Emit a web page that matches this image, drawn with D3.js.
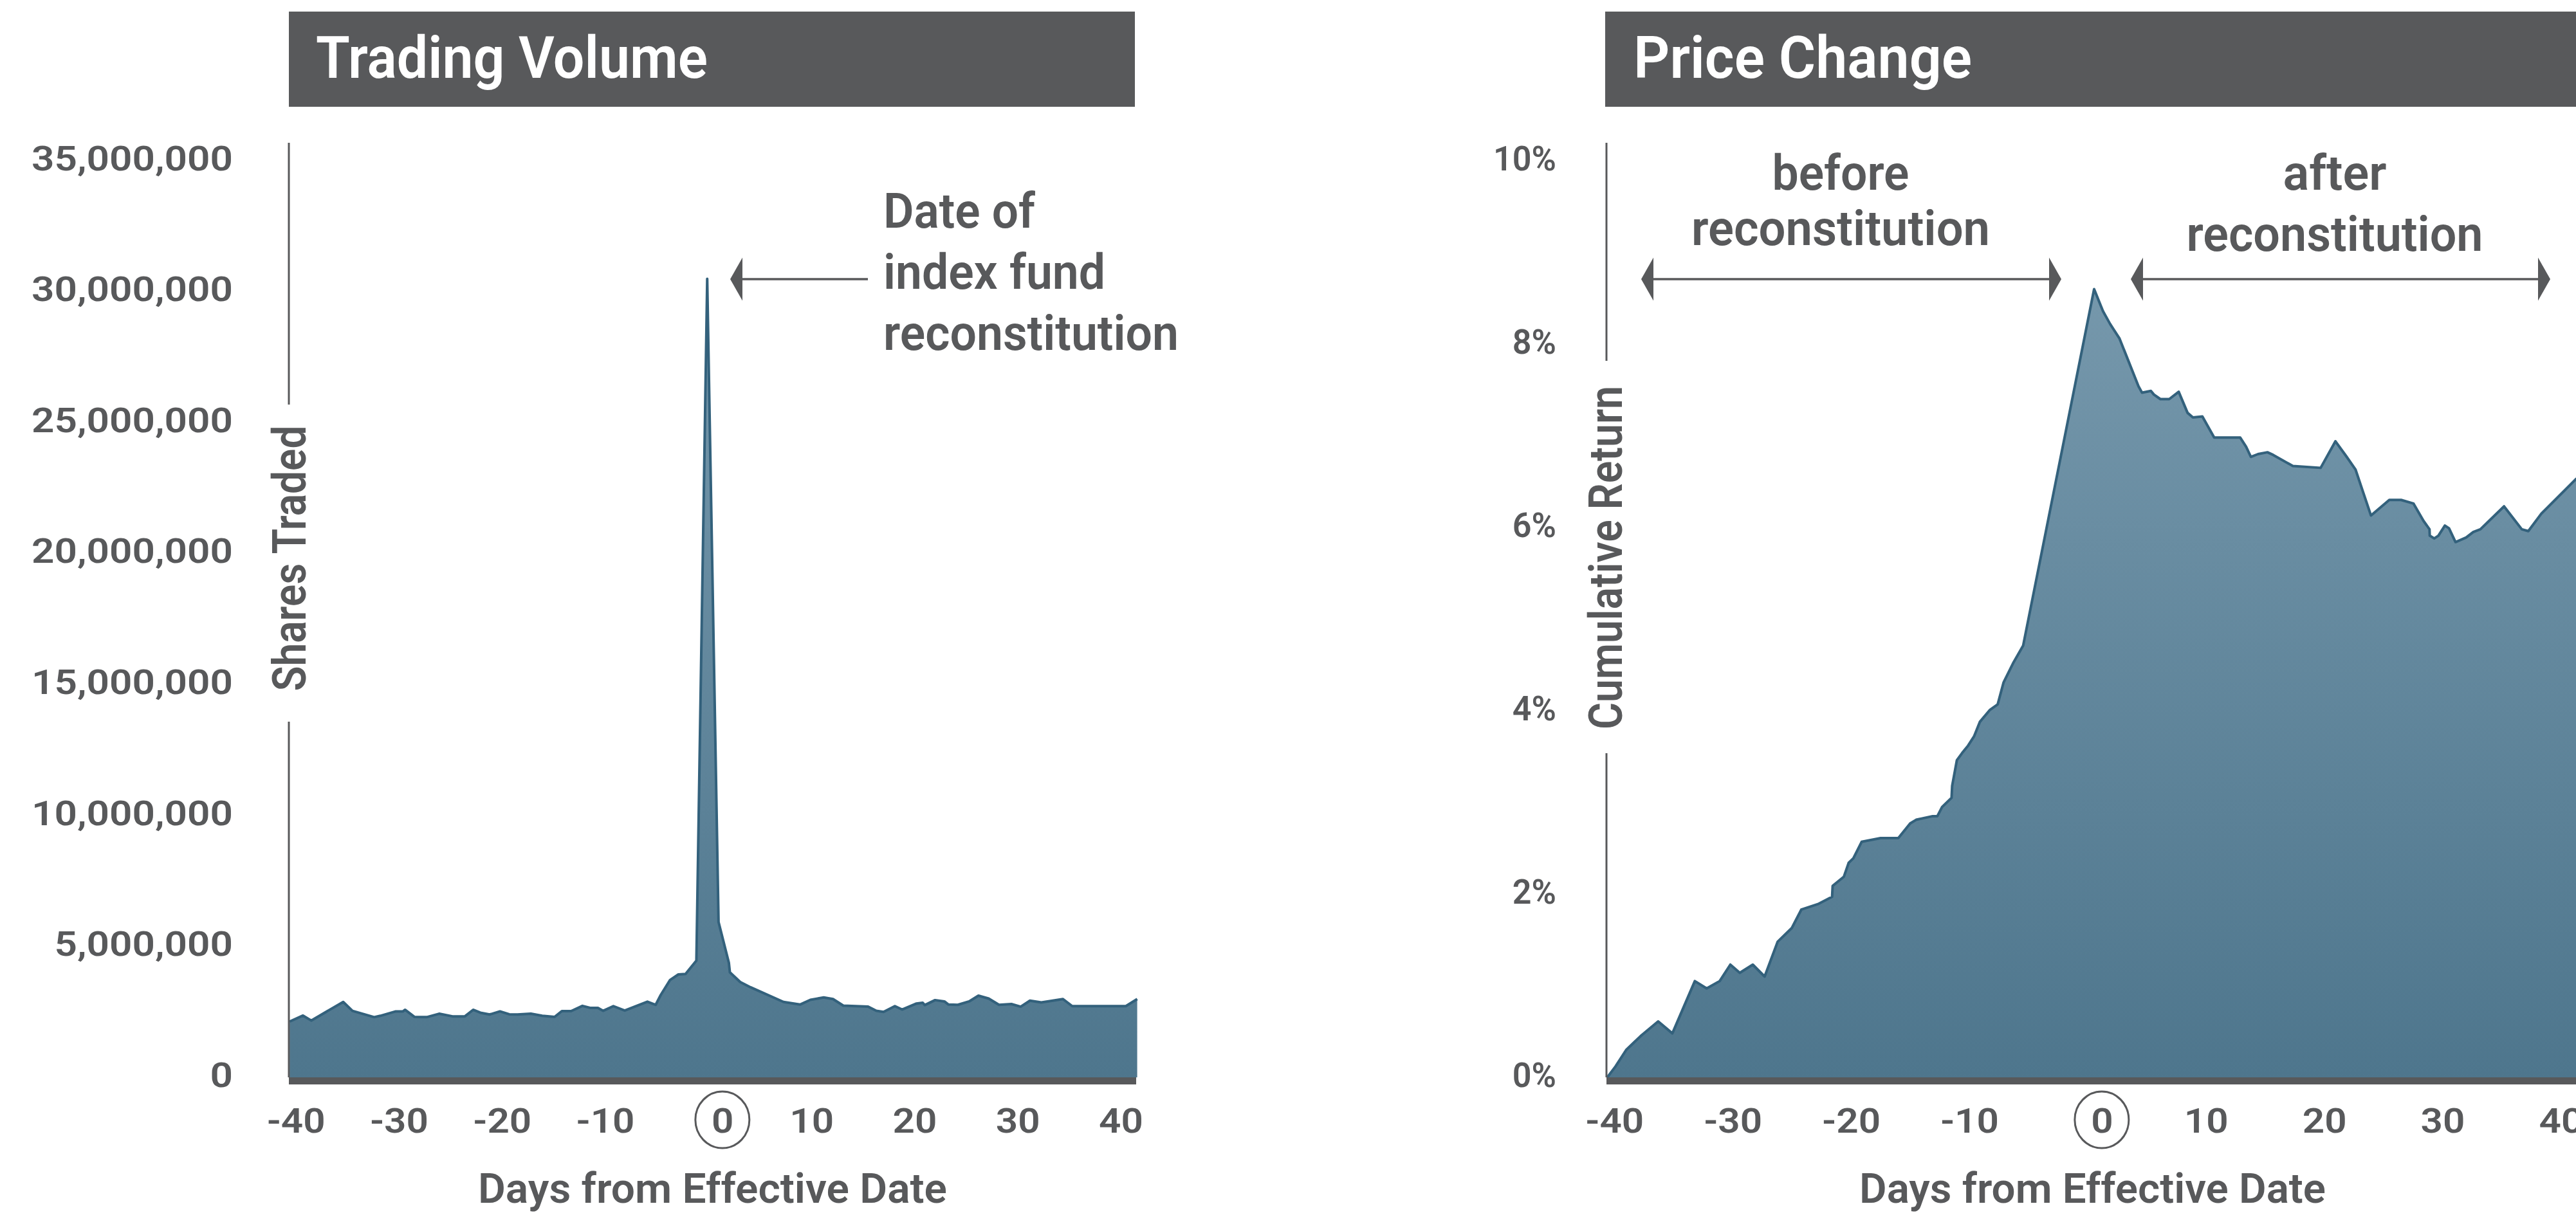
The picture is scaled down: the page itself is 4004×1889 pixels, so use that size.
<!DOCTYPE html>
<html>
<head>
<meta charset="utf-8">
<script src="https://cdn.jsdelivr.net/npm/d3@7"></script>
<style>
  html, body { margin: 0; padding: 0; background: #ffffff; }
  svg { display: block; }
  text { font-family: Roboto, "Noto Sans", "DejaVu Sans", sans-serif; font-weight: 600; fill: #58595b; }
</style>
</head>
<body>
<svg id="chart" width="4004" height="1889"></svg>
<script>
// ---- data -------------------------------------------------------------
// Trading volume: shares traded, by day relative to the effective date
const volumeDays = [
  -40.6, -39.3, -38.5, -35.4, -34.5, -32.4, -31.8, -30.3, -29.6, -29.4,
  -28.5, -27.3, -26.1, -24.8, -23.6, -22.8, -22.1, -21.2, -20.2, -19.3,
  -18.5, -17.2, -16.1, -14.9, -14.2, -13.3, -12.2, -11.4, -10.7, -10.2,
  -9.2, -8.1, -5.9, -5.1, -4.6, -3.7, -2.9, -2.2, -1.15, -0.1,
  1.0, 2.0, 2.1, 3.1, 4.1, 7.3, 8.9, 9.9, 11.2, 12.1,
  13.1, 15.5, 16.3, 17.0, 18.1, 18.8, 20.2, 20.8, 21.0, 22.0,
  22.9, 23.3, 24.2, 25.3, 26.2, 27.2, 28.2, 29.4, 30.3, 31.2,
  32.3, 34.4, 35.3, 40.5, 41.6
];
const volumeShares = [
  2130000, 2360000, 2170000, 2880000, 2540000, 2300000, 2350000, 2520000, 2520000, 2580000,
  2310000, 2300000, 2430000, 2330000, 2330000, 2580000, 2470000, 2400000, 2520000, 2410000,
  2400000, 2430000, 2350000, 2310000, 2530000, 2530000, 2730000, 2650000, 2650000, 2540000,
  2720000, 2550000, 2890000, 2770000, 3150000, 3720000, 3930000, 3950000, 4460000, 30490000,
  5930000, 4380000, 4010000, 3640000, 3440000, 2880000, 2780000, 2960000, 3050000, 2990000,
  2740000, 2700000, 2540000, 2500000, 2720000, 2590000, 2820000, 2850000, 2760000, 2950000,
  2900000, 2780000, 2770000, 2900000, 3120000, 3010000, 2770000, 2800000, 2700000, 2930000,
  2860000, 2990000, 2720000, 2720000, 2990000
];

// Price change: cumulative return (%), by day relative to the effective date
const returnDays = [
  -40.6, -39.9, -39.0, -37.7, -36.3, -35.1, -33.2, -32.2, -31.1, -30.2,
  -29.4, -28.3, -27.3, -26.2, -25.0, -24.2, -22.8, -21.6, -21.55, -20.6,
  -20.2, -19.8, -19.1, -17.5, -16.0, -15.0, -14.5, -13.1, -12.7, -12.3,
  -11.5, -11.45, -11.05, -10.6, -10.1, -9.6, -9.1, -8.25, -7.6, -7.1,
  -6.25, -5.45, 0.55, 1.3, 1.9, 2.7, 4.3, 4.6, 5.35, 5.6,
  6.15, 6.9, 7.7, 8.45, 8.9, 9.7, 10.7, 12.9, 13.4, 13.8,
  14.4, 15.2, 15.7, 17.35, 19.7, 20.95, 21.9, 22.65, 23.95, 25.5,
  26.5, 27.55, 28.4, 28.9, 28.92, 29.3, 29.65, 30.2, 30.55, 31.1,
  32.0, 32.6, 33.2, 35.2, 36.7, 37.25, 38.35, 41.3, 41.5
];
const returnPct = [
  0.00, 0.12, 0.30, 0.46, 0.61, 0.48, 1.05, 0.97, 1.05, 1.23,
  1.14, 1.23, 1.10, 1.48, 1.63, 1.83, 1.89, 1.97, 2.09, 2.19,
  2.34, 2.39, 2.57, 2.61, 2.61, 2.77, 2.81, 2.85, 2.85, 2.95,
  3.05, 3.18, 3.46, 3.54, 3.62, 3.72, 3.88, 4.01, 4.07, 4.31,
  4.53, 4.71, 8.60, 8.36, 8.22, 8.06, 7.54, 7.47, 7.49, 7.45,
  7.40, 7.40, 7.48, 7.25, 7.20, 7.21, 6.98, 6.98, 6.88, 6.77,
  6.80, 6.82, 6.79, 6.67, 6.65, 6.94, 6.77, 6.63, 6.13, 6.30,
  6.30, 6.26, 6.07, 5.98, 5.91, 5.88, 5.91, 6.02, 5.99, 5.84,
  5.89, 5.95, 5.98, 6.23, 5.98, 5.96, 6.15, 6.53, 6.55
];

// Axis ticks and labels
const dayTicks = [-40, -30, -20, -10, 0, 10, 20, 30, 40];
const volumeTicks = [0, 5000000, 10000000, 15000000, 20000000, 25000000, 30000000, 35000000];
const returnTicks = [0, 2, 4, 6, 8, 10];
const panelTitles = ["Trading Volume", "Price Change"];
const yAxisTitles = ["Shares Traded", "Cumulative Return"];
const xAxisTitle = "Days from Effective Date";
const spikeNote = ["Date of", "index fund", "reconstitution"];
const beforeNote = ["before", "reconstitution"];
const afterNote = ["after", "reconstitution"];

// ---- drawing ----------------------------------------------------------
const GREY = "#58595b";
const svg = d3.select("#chart");

const defs = svg.append("defs");
const grad = defs.append("linearGradient")
  .attr("id", "areaFill")
  .attr("gradientUnits", "userSpaceOnUse")
  .attr("x1", 0).attr("y1", 430).attr("x2", 0).attr("y2", 1675);
grad.append("stop").attr("offset", 0).attr("stop-color", "#7698ac");
grad.append("stop").attr("offset", 1).attr("stop-color", "#4e768d");

function naturalWidth(str, size) {
  const t = svg.append("text").attr("font-size", size).text(str);
  const w = t.node().getComputedTextLength();
  t.remove();
  return w;
}
function fit(sel, w) {
  sel.attr("textLength", w).attr("lengthAdjust", "spacingAndGlyphs");
}
function squeeze(sel, k) {
  sel.each(function () {
    const n = this.getComputedTextLength();
    d3.select(this).attr("textLength", n * k).attr("lengthAdjust", "spacingAndGlyphs");
  });
}

const xDomain = [-40.67, 41.5];
const yRange = [1675, 250];
const TICK_SIZE = 54;

function drawPanel(cfg) {
  const g = svg.append("g");
  const x = d3.scaleLinear().domain(xDomain).range(cfg.xRange);
  const y = d3.scaleLinear().domain(cfg.yDomain).range(yRange);
  const pts = cfg.days.map((d, i) => ({ day: d, v: cfg.values[i] }));

  // header band
  g.append("rect")
    .attr("x", cfg.band[0]).attr("y", 18)
    .attr("width", cfg.band[1] - cfg.band[0]).attr("height", 148)
    .attr("fill", GREY);
  g.append("text")
    .attr("x", cfg.titleX).attr("y", 121)
    .attr("font-size", 91).attr("font-weight", 700)
    .style("fill", "#ffffff")
    .text(cfg.title)
    .call(fit, cfg.titleWidth);

  // filled area with its outline
  const area = d3.area().x(d => x(d.day)).y0(y(0)).y1(d => y(d.v));
  const line = d3.line().x(d => x(d.day)).y(d => y(d.v));
  g.append("path").datum(pts).attr("d", area).attr("fill", "url(#areaFill)");
  g.append("path").datum(pts).attr("d", line)
    .attr("fill", "none").attr("stroke", "#33617c")
    .attr("stroke-width", 4).attr("stroke-linejoin", "round");

  // baseline bar
  const xEnd = Math.min(cfg.xRange[1], 4004);
  g.append("rect")
    .attr("x", cfg.xRange[0]).attr("y", y(0))
    .attr("width", xEnd - cfg.xRange[0]).attr("height", 11)
    .attr("fill", GREY);

  // vertical axis rule, broken around its title
  const ax = cfg.xRange[0];
  g.append("line").attr("x1", ax).attr("x2", ax).attr("y1", 222).attr("y2", cfg.gap[0])
    .attr("stroke", GREY).attr("stroke-width", 3);
  g.append("line").attr("x1", ax).attr("x2", ax).attr("y1", cfg.gap[1]).attr("y2", y(0))
    .attr("stroke", GREY).attr("stroke-width", 3);
  g.append("text")
    .attr("transform", `translate(${cfg.yTitleX},${cfg.yTitleY}) rotate(-90)`)
    .attr("text-anchor", "middle")
    .attr("font-size", 73)
    .text(cfg.yTitle)
    .call(fit, cfg.yTitleWidth);

  // y tick labels
  const yAxis = d3.axisLeft(y).tickValues(cfg.yTicks).tickFormat(cfg.yFormat)
    .tickSize(0).tickPadding(0);
  const yg = g.append("g")
    .attr("transform", `translate(${cfg.yLabelRight},-5)`)
    .call(yAxis);
  yg.select(".domain").remove();
  yg.attr("font-family", null).attr("font-size", TICK_SIZE);
  const ky = cfg.yLabelSampleWidth / naturalWidth(cfg.yLabelSample, TICK_SIZE);
  yg.selectAll(".tick text").attr("dy", "0.3555em").style("fill", GREY).call(squeeze, ky);

  // x tick labels; the zero label sits inside a ring, nudged right
  const zeroShift = 22;
  const xAxis = d3.axisBottom(x).tickValues(dayTicks).tickFormat(d => String(d))
    .tickSize(0).tickPadding(0);
  const xg = g.append("g").attr("transform", "translate(0,1761)").call(xAxis);
  xg.select(".domain").remove();
  xg.attr("font-family", null).attr("font-size", TICK_SIZE);
  const kx = cfg.xLabelSampleWidth / naturalWidth("-40", TICK_SIZE);
  xg.selectAll(".tick text")
    .attr("y", 0).attr("dy", 0)
    .attr("dx", d => (d === 0 ? zeroShift : 0))
    .style("fill", GREY)
    .call(squeeze, kx);
  g.append("ellipse")
    .attr("cx", x(0) + zeroShift).attr("cy", 1741)
    .attr("rx", 42).attr("ry", 44)
    .attr("fill", "none").attr("stroke", GREY).attr("stroke-width", 3);

  // x axis title
  g.append("text")
    .attr("x", (cfg.xRange[0] + cfg.xRange[1]) / 2).attr("y", 1870)
    .attr("text-anchor", "middle")
    .attr("font-size", 64)
    .text(xAxisTitle)
    .call(fit, cfg.xTitleWidth);

  return { g, x, y };
}

function arrowHead(g, tipX, dir, yMid) {
  // dir = -1 points left, +1 points right
  const back = tipX - dir * 19;
  g.append("path")
    .attr("d", `M${tipX},${yMid} L${back},${yMid - 33.5} L${back},${yMid + 33.5} Z`)
    .attr("fill", GREY);
}

// ---- Trading Volume panel ----
const left = drawPanel({
  xRange: [449, 1766],
  yDomain: [0, 35000000],
  days: volumeDays, values: volumeShares,
  band: [449, 1764], title: panelTitles[0], titleX: 491, titleWidth: 609,
  gap: [629, 1122], yTitle: yAxisTitles[0], yTitleX: 475, yTitleY: 868, yTitleWidth: 413,
  yTicks: volumeTicks, yFormat: d3.format(","), yLabelRight: 362,
  yLabelSample: "35,000,000", yLabelSampleWidth: 313,
  xLabelSampleWidth: 91, xTitleWidth: 729
});

// annotation pointing at the volume spike
const arrowY = 434;
left.g.append("line").attr("x1", 1150).attr("x2", 1349).attr("y1", arrowY).attr("y2", arrowY)
  .attr("stroke", GREY).attr("stroke-width", 3.5);
arrowHead(left.g, 1135, -1, arrowY);
const spikeBaselines = [354, 449, 544];
const spikeWidths = [236, 345, 459];
spikeNote.forEach((s, i) => {
  left.g.append("text")
    .attr("x", 1373).attr("y", spikeBaselines[i])
    .attr("font-size", 76)
    .text(s)
    .call(fit, spikeWidths[i]);
});

// ---- Price Change panel ----
const right = drawPanel({
  xRange: [2497, 4008],
  yDomain: [0, 10],
  days: returnDays, values: returnPct,
  band: [2495, 4004], title: panelTitles[1], titleX: 2539, titleWidth: 526,
  gap: [561, 1171], yTitle: yAxisTitles[1], yTitleX: 2521, yTitleY: 867, yTitleWidth: 534,
  yTicks: returnTicks, yFormat: d => d + "%", yLabelRight: 2419,
  yLabelSample: "10%", yLabelSampleWidth: 98,
  xLabelSampleWidth: 91, xTitleWidth: 725
});

// before / after spans
[[2551, 3204], [3312, 3964]].forEach(([a, b]) => {
  right.g.append("line").attr("x1", a + 15).attr("x2", b - 15).attr("y1", arrowY).attr("y2", arrowY)
    .attr("stroke", GREY).attr("stroke-width", 3.5);
  arrowHead(right.g, a, -1, arrowY);
  arrowHead(right.g, b, 1, arrowY);
});
const spanNotes = [
  { lines: beforeNote, cx: 2861, baselines: [295, 381], widths: [213, 464] },
  { lines: afterNote, cx: 3629, baselines: [295, 390], widths: [161, 461] }
];
spanNotes.forEach(n => {
  n.lines.forEach((s, i) => {
    right.g.append("text")
      .attr("x", n.cx).attr("y", n.baselines[i])
      .attr("text-anchor", "middle")
      .attr("font-size", 76)
      .text(s)
      .call(fit, n.widths[i]);
  });
});
</script>
</body>
</html>
